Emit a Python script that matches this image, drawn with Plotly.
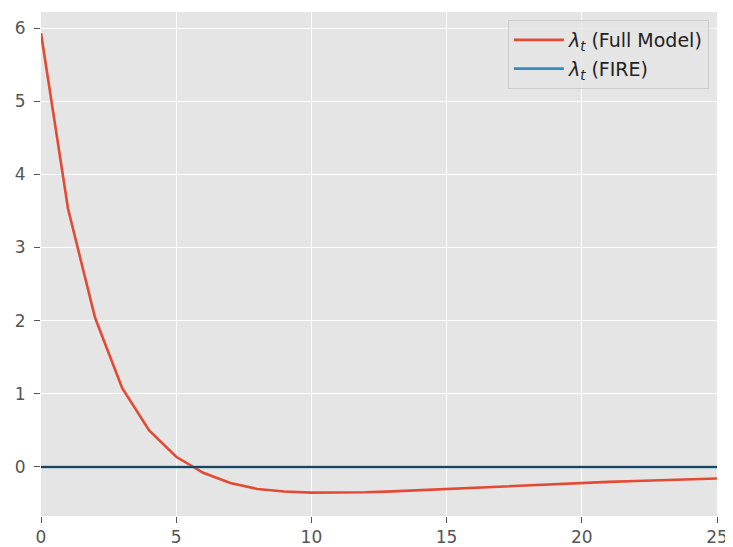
import plotly.graph_objects as go

t_values = list(range(26))
full_model = [5.93, 3.53, 2.04, 1.08, 0.50, 0.14, -0.08, -0.22, -0.30, -0.335,
              -0.350, -0.352, -0.345, -0.333, -0.316, -0.297, -0.280, -0.263, -0.247, -0.231,
              -0.216, -0.203, -0.191, -0.179, -0.168, -0.157]
fire = [0.0] * 26
x_ticks = [0, 5, 10, 15, 20, 25]
y_ticks = [0, 1, 2, 3, 4, 5, 6]

fig = go.Figure()
fig.add_trace(go.Scatter(x=t_values, y=full_model, mode="lines", legendgroup="a",
                         line=dict(color="#E24A33", width=2.6),
                         name="<i>λ</i><sub><i>t</i></sub> (Full Model)"))
fig.add_trace(go.Scatter(x=t_values, y=fire, mode="lines", legendgroup="b",
                         line=dict(color="#348ABD", width=2.6),
                         name="<i>λ</i><sub><i>t</i></sub> (FIRE)"))
fig.add_hline(y=0, line=dict(color="black", width=1.2), layer="above")

axis_common = dict(showgrid=True, gridcolor="white", gridwidth=1.2, zeroline=False,
                   showline=False, ticks="outside", ticklen=6, tickcolor="#555555",
                   tickwidth=1, automargin=False,
                   tickfont=dict(family="DejaVu Sans", size=17, color="#555555"))
fig.update_xaxes(range=[0, 25], tickvals=x_ticks, **axis_common)
fig.update_yaxes(range=[-0.67, 6.22], tickvals=y_ticks, ticklabelstandoff=5, **axis_common)

fig.update_layout(
    width=725, height=539,
    margin=dict(l=33, r=16, t=4, b=31, autoexpand=False),
    paper_bgcolor="white", plot_bgcolor="#E5E5E5",
    font=dict(family="DejaVu Sans", size=17, color="#222222"),
    legend=dict(x=0.988, y=0.984, xanchor="right", yanchor="top",
                bgcolor="rgba(229,229,229,0.85)", bordercolor="#CCCCCC", borderwidth=1,
                itemwidth=50, traceorder="grouped", tracegroupgap=1,
                font=dict(size=19, color="#222222")),
)
fig.write_html("out.html")
